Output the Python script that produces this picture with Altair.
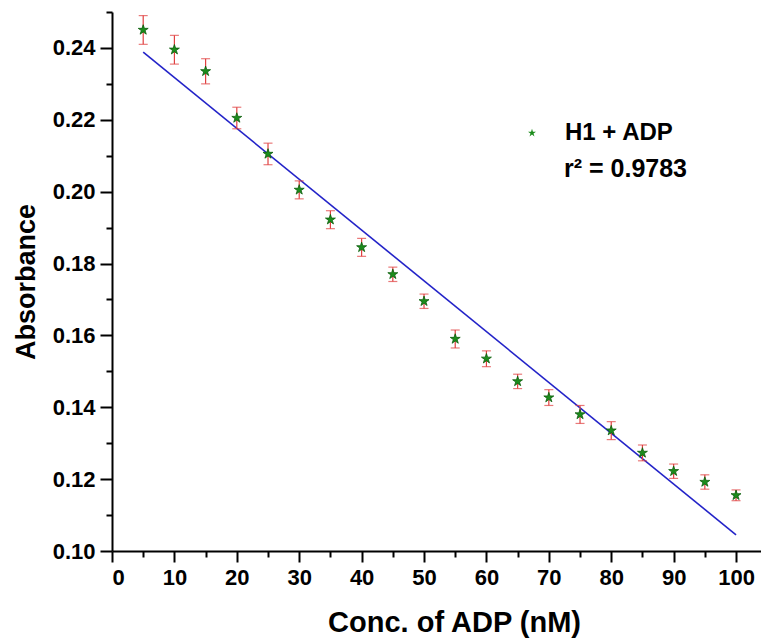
import altair as alt
import pandas as pd

conc = [5, 10, 15, 20, 25, 30, 35, 40, 45, 50, 55, 60, 65, 70, 75, 80, 85, 90, 95, 100]
absorb = [0.2450, 0.2395, 0.2335, 0.2205, 0.2105, 0.2005, 0.1922, 0.1845, 0.1770, 0.1695,
          0.1590, 0.1535, 0.1472, 0.1427, 0.1380, 0.1335, 0.1273, 0.1222, 0.1192, 0.1155]
err = [0.0040, 0.0040, 0.0035, 0.0030, 0.0030, 0.0025, 0.0025, 0.0025, 0.0020, 0.0020,
       0.0025, 0.0022, 0.0020, 0.0022, 0.0025, 0.0025, 0.0022, 0.0020, 0.0020, 0.0015]
fit_x = [5, 100]
fit_y = [0.2388, 0.1045]
series_name = "H1 + ADP"
r2_label = "r² = 0.9783"
x_major = [0, 10, 20, 30, 40, 50, 60, 70, 80, 90, 100]
x_minor = [5, 15, 25, 35, 45, 55, 65, 75, 85, 95]
y_major = [0.10, 0.12, 0.14, 0.16, 0.18, 0.20, 0.22, 0.24]
y_minor = [0.11, 0.13, 0.15, 0.17, 0.19, 0.21, 0.23, 0.25]

df = pd.DataFrame({"x": conc, "y": absorb, "lo": [a - e for a, e in zip(absorb, err)],
                   "hi": [a + e for a, e in zip(absorb, err)], "s": [series_name] * len(conc)})
fit = pd.DataFrame({"x": fit_x, "y": fit_y})

FONT = "Liberation Sans, Arial, Helvetica"
STAR = "M0,-1L0.2245,-0.309L0.951,-0.309L0.363,0.118L0.588,0.809L0,0.382L-0.588,0.809L-0.363,0.118L-0.951,-0.309L-0.2245,-0.309Z"

xs = alt.Scale(domain=[0, 104], nice=False, zero=False)
ys = alt.Scale(domain=[0.10, 0.25], nice=False, zero=False)

x_axis = alt.Axis(values=x_major, format="d", orient="bottom", tickSize=11, tickWidth=2,
                  domainWidth=2, domainColor="black", tickColor="black", grid=False,
                  labelFont=FONT, labelFontSize=22, labelFontWeight="bold", labelColor="black",
                  labelPadding=5, title="Conc. of ADP (nM)", titleFont=FONT,
                  titleFontSize=29, titleFontWeight="bold", titleColor="black", titlePadding=20,
                  titleX=342)
y_axis = alt.Axis(values=y_major, format=".2f", orient="left", tickSize=12, tickWidth=2,
                  domainWidth=2, domainColor="black", tickColor="black", grid=False,
                  labelFont=FONT, labelFontSize=22, labelFontWeight="bold", labelColor="black",
                  labelPadding=5, title="Absorbance", titleFont=FONT,
                  titleFontSize=27, titleFontWeight="bold", titleColor="black", titlePadding=12)

x_minor_axis = alt.Axis(values=x_minor, orient="bottom", tickSize=6, tickWidth=2, tickColor="black",
                        labels=False, domain=False, grid=False, title=None)
y_minor_axis = alt.Axis(values=y_minor, orient="left", tickSize=6, tickWidth=2, tickColor="black",
                        labels=False, domain=False, grid=False, title=None)

line = alt.Chart(fit).mark_line(color="#2323c8", strokeWidth=1.6).encode(
    x=alt.X("x:Q", scale=xs, axis=x_axis),
    y=alt.Y("y:Q", scale=ys, axis=y_axis),
)

minor = alt.Chart(fit).mark_point(opacity=0).encode(
    x=alt.X("x:Q", scale=xs, axis=x_minor_axis),
    y=alt.Y("y:Q", scale=ys, axis=y_minor_axis),
)

bars = alt.Chart(df).mark_rule(color="#e04040", strokeWidth=1.2).encode(
    x=alt.X("x:Q", scale=xs, axis=None), y=alt.Y("lo:Q", scale=ys, axis=None), y2="hi:Q")
cap_lo = alt.Chart(df).mark_tick(color="#e04040", thickness=1.2, size=9, orient="horizontal").encode(
    x=alt.X("x:Q", scale=xs, axis=None), y=alt.Y("lo:Q", scale=ys, axis=None))
cap_hi = alt.Chart(df).mark_tick(color="#e04040", thickness=1.2, size=9, orient="horizontal").encode(
    x=alt.X("x:Q", scale=xs, axis=None), y=alt.Y("hi:Q", scale=ys, axis=None))

pts = alt.Chart(df).mark_point(shape=STAR, filled=True, size=110, opacity=1,
                               stroke="#0b5e0b", strokeWidth=0.8).encode(
    x=alt.X("x:Q", scale=xs, axis=None),
    y=alt.Y("y:Q", scale=ys, axis=None),
    color=alt.Color("s:N", scale=alt.Scale(range=["#1c8c1c"]),
                    legend=alt.Legend(title=None, orient="none", legendX=408, legendY=109,
                                      symbolType=STAR, symbolSize=70, symbolFillColor="#1c8c1c",
                                      symbolStrokeWidth=0, labelFont=FONT,
                                      labelFontSize=24, labelFontWeight="bold", labelColor="black",
                                      labelOffset=21, labelLimit=300)),
)

r2 = alt.Chart(pd.DataFrame({"t": [r2_label]})).mark_text(
    font=FONT, fontSize=25, fontWeight="bold", color="black",
    align="left", baseline="middle").encode(
    text="t:N", x=alt.value(452), y=alt.value(157))

chart = alt.layer(line, minor, bars, cap_lo, cap_hi, pts, r2).resolve_axis(
    x="independent", y="independent"
).properties(
    width=649, height=539,
    padding={"left": 112, "top": 12, "right": 0, "bottom": 89},
    autosize=alt.AutoSizeParams(type="none"),
    background="white",
).configure_view(stroke=None)

chart.save("out.html", embed_options={"renderer": "svg", "actions": False})
